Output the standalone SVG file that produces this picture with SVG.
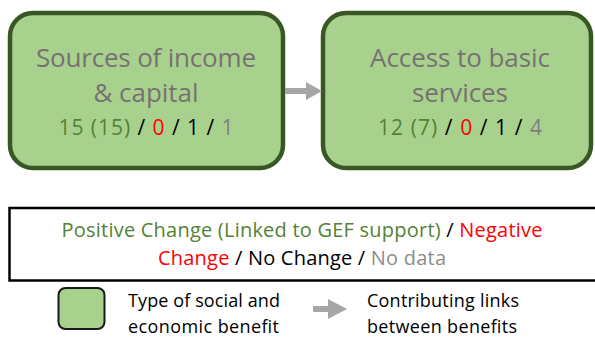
<svg xmlns="http://www.w3.org/2000/svg" width="595" height="337" viewBox="0 0 595 337">
<style>
.node{fill:#A9D18E;stroke:#385723;stroke-width:4.5}
.t{font-family:"Open Sans",Lato,"Liberation Sans",sans-serif;text-anchor:middle}
.title{font-size:26px;fill:#767171}
.num{font-size:21px}
.g{fill:#548235}.r{fill:#FF0000}.k{fill:#000000}.n{fill:#7F7F7F}.nd{fill:#8C8C8C}
.arrow{fill:#A6A6A6}
.leg{font-family:"Open Sans",Lato,"Liberation Sans",sans-serif;font-size:18px;fill:#000}
</style>
<rect width="595" height="337" fill="#fff"/>
<g id="node-income">
<rect class="node" x="10" y="13" width="273" height="155" rx="23"/>
<text class="t title" x="146" y="67" textLength="220" lengthAdjust="spacing">Sources of income</text>
<text class="t title" x="146" y="102" textLength="105" lengthAdjust="spacing">&amp; capital</text>
<text class="t num" x="146" y="135" textLength="175" lengthAdjust="spacing"><tspan class="g">15 (15)</tspan><tspan class="k"> / </tspan><tspan class="r">0</tspan><tspan class="k"> / 1 / </tspan><tspan class="n">1</tspan></text>
</g>
<g id="node-services">
<rect class="node" x="323" y="13" width="268" height="155" rx="23"/>
<text class="t title" x="460" y="67" textLength="180" lengthAdjust="spacing">Access to basic</text>
<text class="t title" x="460" y="102" textLength="96" lengthAdjust="spacing">services</text>
<text class="t num" x="460" y="135" textLength="164" lengthAdjust="spacing"><tspan class="g">12 (7)</tspan><tspan class="k"> / </tspan><tspan class="r">0</tspan><tspan class="k"> / 1 / </tspan><tspan class="n">4</tspan></text>
</g>
<g id="connectors">
<polygon class="arrow" points="285,88 306,88 306,82 322,91 306,100 306,94 285,94"/>
</g>
<g id="legend">
<rect x="9.5" y="208" width="600" height="72.5" fill="#fff" stroke="#000" stroke-width="2.5"/>
<text class="t" font-size="20" x="302" y="237" textLength="481" lengthAdjust="spacing"><tspan class="g">Positive Change (Linked to GEF support)</tspan><tspan class="k"> / </tspan><tspan class="r">Negative</tspan></text>
<text class="t" font-size="20" x="302" y="265" textLength="288" lengthAdjust="spacing"><tspan class="r">Change</tspan><tspan class="k"> / No Change / </tspan><tspan class="nd">No data</tspan></text>
<rect x="58.5" y="288" width="46" height="41" rx="7" fill="#A9D18E" stroke="#1a1a1a" stroke-width="2"/>
<text class="leg" x="128" y="307" textLength="152" lengthAdjust="spacing">Type of social and</text>
<text class="leg" x="128" y="333" textLength="151" lengthAdjust="spacing">economic benefit</text>
<polygon class="arrow" points="313,306 328,306 328,299 347,309 328,319 328,312 313,312"/>
<text class="leg" x="367" y="307" textLength="152" lengthAdjust="spacing">Contributing links</text>
<text class="leg" x="367" y="333" textLength="150" lengthAdjust="spacing">between benefits</text>
</g>
</svg>
